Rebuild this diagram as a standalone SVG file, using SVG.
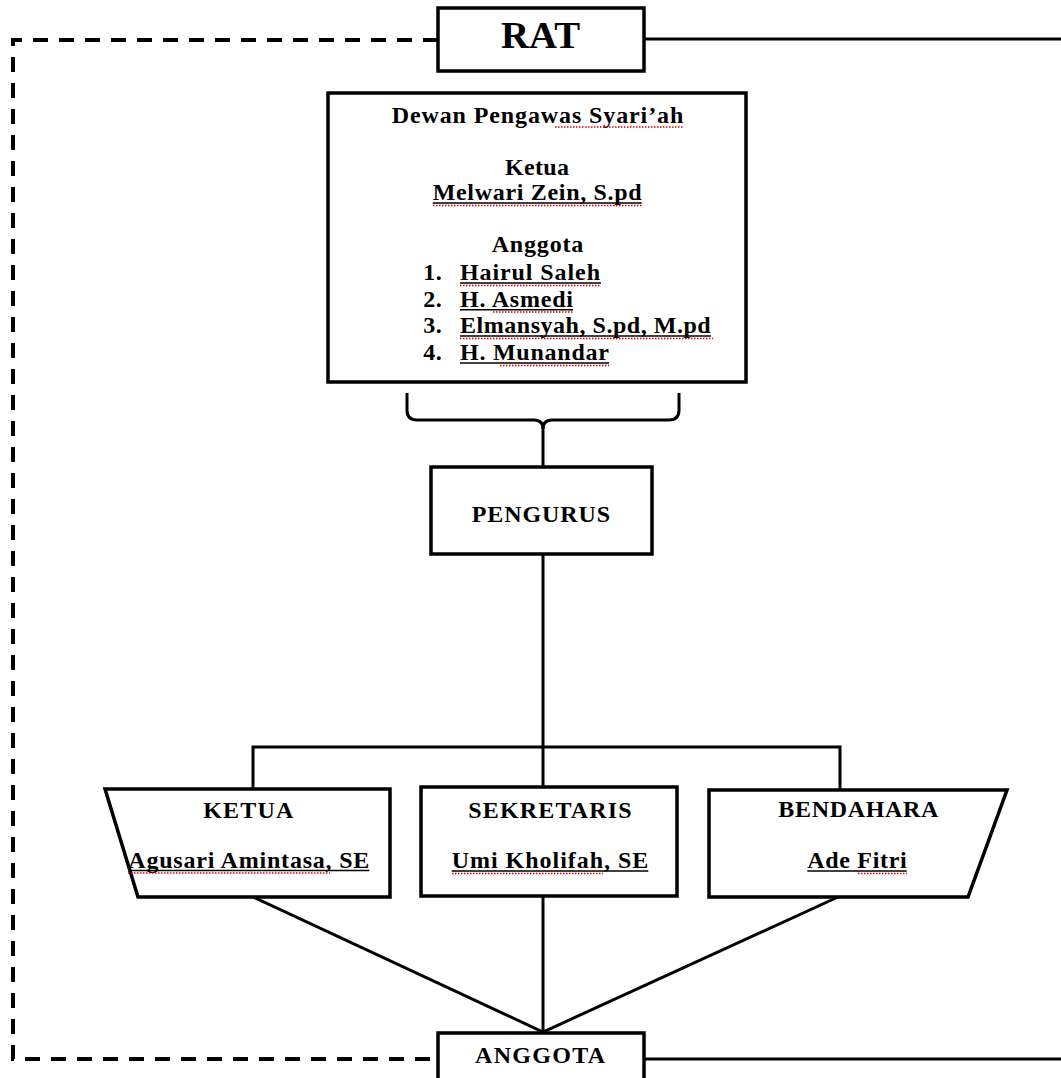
<svg xmlns="http://www.w3.org/2000/svg" width="1061" height="1078" viewBox="0 0 1061 1078">
<style>
.box{fill:#fff;stroke:#000;stroke-width:3.5;stroke-linejoin:miter}
.con{fill:none;stroke:#000;stroke-width:3}
.dash{fill:none;stroke:#000;stroke-width:4;stroke-dasharray:15 11}
text{font-family:"Liberation Serif","Times New Roman",serif;font-weight:bold;fill:#000}
.t{font-size:24px}
.ul{stroke:#000;stroke-width:1.5}
.sp{stroke:#e00000;stroke-width:1.3;stroke-dasharray:1.5 1.5;fill:none}
</style>
<rect width="1061" height="1078" fill="#fff"/>
<g id="connectors">
<path class="dash" d="M438,40 H13 V1059 H438"/>
<path class="con" d="M644,39 H1061"/>
<path class="con" d="M644,1059 H1061"/>
<path class="con" d="M407,393 V410 Q407,420 417,420 H534 Q543,420 543,429"/>
<path class="con" d="M679,393 V410 Q679,420 669,420 H552 Q543,420 543,429"/>
<path class="con" d="M543,429 V467"/>
<path class="con" d="M543,554 V1033"/>
<path class="con" d="M253,790 V747 H840 V790"/>
<path class="con" d="M253,897 L543,1032 L838,897"/>
</g>
<g id="rat">
<rect class="box" x="438" y="8" width="206" height="63"/>
<text x="501" y="48" font-size="37" textLength="79" lengthAdjust="spacingAndGlyphs">RAT</text>
</g>
<g id="dewan-pengawas">
<rect class="box" x="328" y="93" width="418" height="289"/>
<text class="t" x="391.7" y="123" textLength="291.6" lengthAdjust="spacing">Dewan Pengawas Syari’ah</text>
<path class="sp" d="M555,127 H684"/>
<text class="t" x="505" y="175" textLength="64" lengthAdjust="spacing">Ketua</text>
<text class="t" x="432.7" y="200" textLength="209" lengthAdjust="spacing">Melwari Zein, S.pd</text>
<line class="ul" x1="432.7" y1="203" x2="641.7" y2="203"/>
<path class="sp" d="M433,205.5 H642"/>
<text class="t" x="491.7" y="251.5" textLength="91.6" lengthAdjust="spacing">Anggota</text>
<text class="t" x="423.3" y="280" textLength="18.4" lengthAdjust="spacing">1.</text>
<text class="t" x="460" y="280" textLength="140" lengthAdjust="spacing">Hairul Saleh</text>
<line class="ul" x1="460" y1="283" x2="601" y2="283"/>
<path class="sp" d="M460,285.5 H601"/>
<text class="t" x="423.3" y="306.7" textLength="18.4" lengthAdjust="spacing">2.</text>
<text class="t" x="460" y="306.7" textLength="113" lengthAdjust="spacing">H. Asmedi</text>
<line class="ul" x1="460" y1="309.7" x2="573" y2="309.7"/>
<path class="sp" d="M493,312 H573"/>
<text class="t" x="423.3" y="333" textLength="18.4" lengthAdjust="spacing">3.</text>
<text class="t" x="460" y="333" textLength="250.7" lengthAdjust="spacing">Elmansyah, S.pd, M.pd</text>
<line class="ul" x1="460" y1="336" x2="711" y2="336"/>
<path class="sp" d="M460,338.5 H713"/>
<text class="t" x="423.3" y="360" textLength="18.4" lengthAdjust="spacing">4.</text>
<text class="t" x="460" y="360" textLength="149" lengthAdjust="spacing">H. Munandar</text>
<line class="ul" x1="460" y1="363" x2="609" y2="363"/>
<path class="sp" d="M500,365.5 H609"/>
</g>
<g id="pengurus">
<rect class="box" x="431" y="467" width="221" height="87"/>
<text class="t" x="471.7" y="521.7" textLength="138.3" lengthAdjust="spacing">PENGURUS</text>
</g>
<g id="ketua">
<path class="box" d="M105,789 H390 V897 H138 Z"/>
<text class="t" x="203.3" y="818.3" textLength="90" lengthAdjust="spacing">KETUA</text>
<text class="t" x="128.3" y="867.7" textLength="241" lengthAdjust="spacing">Agusari Amintasa, SE</text>
<line class="ul" x1="128.3" y1="870.5" x2="369.3" y2="870.5"/>
<path class="sp" d="M128,873 H330"/>
</g>
<g id="sekretaris">
<rect class="box" x="421" y="787" width="256" height="109"/>
<text class="t" x="468.3" y="818" textLength="163.4" lengthAdjust="spacing">SEKRETARIS</text>
<text class="t" x="451.7" y="868" textLength="196.6" lengthAdjust="spacing">Umi Kholifah, SE</text>
<line class="ul" x1="451.7" y1="871" x2="648.3" y2="871"/>
<path class="sp" d="M452,873.5 H603"/>
</g>
<g id="bendahara">
<path class="box" d="M709,790 H1007 L968,897 H709 Z"/>
<text class="t" x="778.3" y="817" textLength="160" lengthAdjust="spacing">BENDAHARA</text>
<text class="t" x="807.3" y="868" textLength="99.4" lengthAdjust="spacing">Ade Fitri</text>
<line class="ul" x1="807.3" y1="871" x2="906.7" y2="871"/>
<path class="sp" d="M858,873.5 H907"/>
</g>
<g id="anggota">
<rect class="box" x="438" y="1033" width="206" height="60"/>
<text class="t" x="475" y="1062.7" textLength="130" lengthAdjust="spacing">ANGGOTA</text>
</g>
</svg>
